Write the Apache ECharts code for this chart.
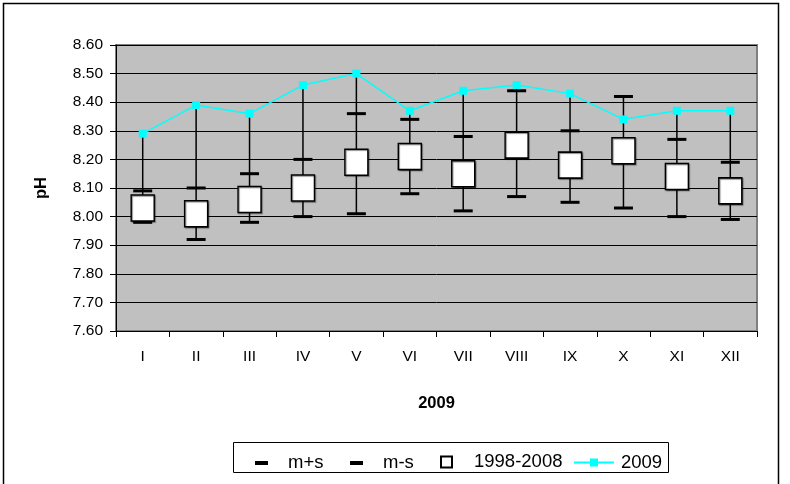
<!DOCTYPE html>
<html>
<head>
<meta charset="utf-8">
<script src="https://cdn.jsdelivr.net/npm/echarts@6/dist/echarts.min.js"></script>
<style>
html,body{margin:0;padding:0;background:#fff;}
#chart{width:790px;height:484px;}
</style>
</head>
<body>
<div id="chart"></div>
<script>
// ---- data ----
var months = ['I','II','III','IV','V','VI','VII','VIII','IX','X','XI','XII'];
var yTickLabels = ['7.60','7.70','7.80','7.90','8.00','8.10','8.20','8.30','8.40','8.50','8.60'];
var mPlusS  = [8.09, 8.10, 8.15, 8.20, 8.36, 8.34, 8.28, 8.44, 8.30, 8.42, 8.27, 8.19];
var mMinusS = [7.98, 7.92, 7.98, 8.00, 8.01, 8.08, 8.02, 8.07, 8.05, 8.03, 8.00, 7.99];
var mean9808 = [8.03, 8.01, 8.06, 8.10, 8.19, 8.21, 8.15, 8.25, 8.18, 8.23, 8.14, 8.09];
var y2009   = [8.29, 8.39, 8.36, 8.46, 8.50, 8.37, 8.44, 8.46, 8.43, 8.34, 8.37, 8.37];

var FONT = '"Liberation Sans", Arial, sans-serif';
var LFS = 18.5; // legend font size

// high-low lines spanning all series for each month
var hiLo = months.map(function (m, i) {
  var vals = [mPlusS[i], mMinusS[i], mean9808[i], y2009[i]];
  return [i, Math.min.apply(null, vals), Math.max.apply(null, vals)];
});

var chart = echarts.init(document.getElementById('chart'), null, {renderer: 'canvas'});

function lt(padLeft) {
  return {fontFamily: FONT, fontSize: LFS, color: '#000', padding: [0, 0, 14, padLeft]};
}

var option = {
  animation: false,
  backgroundColor: '#fff',
  graphic: [
    {type: 'rect', silent: true, z: -10,
     shape: {x: 3.5, y: 3.5, width: 775, height: 520},
     style: {fill: '#fff', stroke: '#000', lineWidth: 1.5}},
    {type: 'rect', silent: true, z: -5,
     shape: {x: 233.5, y: 442.5, width: 435, height: 30},
     style: {fill: '#fff', stroke: '#000', lineWidth: 1}}
  ],
  grid: {
    left: 116, right: 33, top: 45, bottom: 153,
    show: true, backgroundColor: '#C0C0C0', borderColor: '#808080', borderWidth: 2
  },
  legend: [
    {data: [{name: 'm+s', icon: 'rect'}], left: 255, top: 453.5, itemWidth: 13, itemHeight: 4,
     selectedMode: false, textStyle: lt(15), padding: 0},
    {data: [{name: 'm-s', icon: 'rect'}], left: 350, top: 453.5, itemWidth: 13, itemHeight: 4,
     selectedMode: false, textStyle: lt(15), padding: 0},
    {data: [{name: '1998-2008', icon: 'rect'}], left: 440, top: 452.5, itemWidth: 11, itemHeight: 11,
     selectedMode: false, textStyle: lt(17), padding: 0},
    {data: [{name: '2009'}], left: 573, top: 453, itemWidth: 40, itemHeight: 10,
     selectedMode: false, textStyle: lt(2), padding: 0}
  ],
  xAxis: {
    type: 'category',
    data: months,
    boundaryGap: true,
    name: '2009',
    nameLocation: 'middle',
    nameGap: 64,
    nameTextStyle: {fontFamily: FONT, fontSize: 16.5, fontWeight: 'bold', color: '#000'},
    axisLine: {show: true, lineStyle: {color: '#000', width: 1}},
    axisTick: {show: true, interval: 0, length: 6, lineStyle: {color: '#000'}},
    axisLabel: {interval: 0, margin: 18, fontFamily: FONT, fontSize: 15.5, color: '#000'},
    splitLine: {show: false}
  },
  yAxis: {
    type: 'value',
    min: 7.6, max: 8.6, interval: 0.1,
    name: 'pH',
    nameLocation: 'middle',
    nameGap: 66,
    nameRotate: 90,
    nameTextStyle: {fontFamily: FONT, fontSize: 16.5, fontWeight: 'bold', color: '#000'},
    axisLine: {show: true, lineStyle: {color: '#000', width: 1}},
    axisTick: {show: true, length: 6, lineStyle: {color: '#000'}},
    axisLabel: {
      margin: 13, fontFamily: FONT, fontSize: 15.5, color: '#000',
      formatter: function (v) {
        var idx = Math.round((v - 7.6) / 0.1);
        return yTickLabels[idx] !== undefined ? yTickLabels[idx] : v.toFixed(2);
      }
    },
    splitLine: {show: true, lineStyle: {color: '#000', width: 1}}
  },
  series: [
    {
      name: 'hl', type: 'custom', silent: true, z: 2,
      data: hiLo,
      encode: {x: 0, y: [1, 2]},
      renderItem: function (params, api) {
        var lo = api.coord([api.value(0), api.value(1)]);
        var hi = api.coord([api.value(0), api.value(2)]);
        return {type: 'line', shape: {x1: lo[0], y1: lo[1], x2: hi[0], y2: hi[1]},
                style: {stroke: '#000', lineWidth: 1.5}};
      }
    },
    {
      name: 'm+s', type: 'line', data: mPlusS, z: 3,
      symbol: 'rect', symbolSize: [19, 3], showSymbol: true,
      lineStyle: {width: 0, opacity: 0}, itemStyle: {color: '#000'}
    },
    {
      name: 'm-s', type: 'line', data: mMinusS, z: 3,
      symbol: 'rect', symbolSize: [19, 3], showSymbol: true,
      lineStyle: {width: 0, opacity: 0}, itemStyle: {color: '#000'}
    },
    {
      name: '1998-2008', type: 'line', data: mean9808, z: 4,
      symbol: 'rect', symbolSize: [23, 26], showSymbol: true,
      lineStyle: {width: 0, opacity: 0},
      itemStyle: {color: '#fff', borderColor: '#000', borderWidth: 1.5,
                  shadowColor: 'rgba(0,0,0,0.45)', shadowOffsetX: 1, shadowOffsetY: 1, shadowBlur: 1}
    },
    {
      name: '2009', type: 'line', data: y2009, z: 5,
      symbol: 'rect', symbolSize: 8, showSymbol: true,
      lineStyle: {color: '#00FFFF', width: 1.5}, itemStyle: {color: '#00FFFF'}
    }
  ]
};
chart.setOption(option);
</script>
</body>
</html>
